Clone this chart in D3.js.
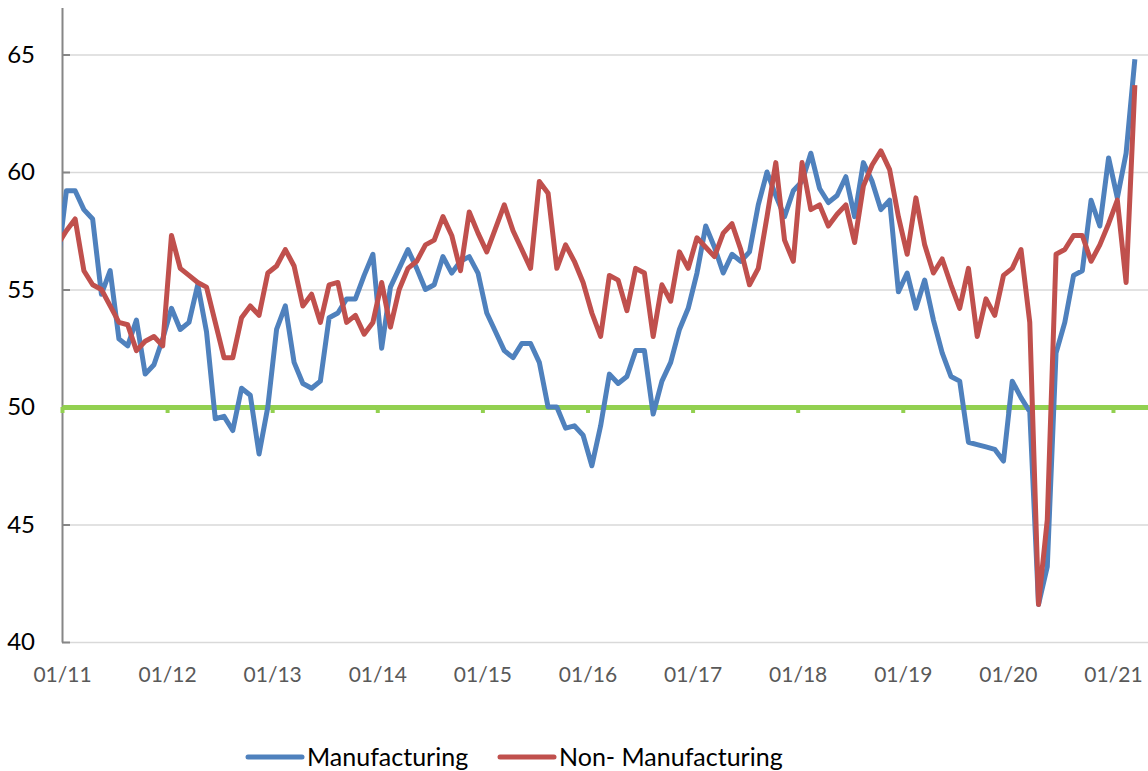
<!DOCTYPE html>
<meta charset="utf-8">

<head>
  <style>
    body {
      margin: 0;
      background: #fff;
    }

    text {
      font-family: Lato, "Open Sans", sans-serif;
    }

    .grid line {
      stroke: #d9d9d9;
      stroke-width: 1.5;
    }

    .grid path {
      display: none;
    }
  </style>
</head>

<body>
  <script src="https://d3js.org/d3.v7.min.js"></script>

  <script>
    // first plotted month is Dec 2010 (cut off by the axis), then Jan 2011 .. Mar 2021
    var startMonth = new Date(2010, 11, 1);

    var seriesNames = ["Manufacturing", "Non- Manufacturing"];
    var seriesColors = ["#4f81bd", "#c0504d"];

    var yTicks = [40, 45, 50, 55, 60, 65];
    var xTickLabels = ["01/11", "01/12", "01/13", "01/14", "01/15", "01/16",
      "01/17", "01/18", "01/19", "01/20", "01/21"];

    var manufacturing = [
      56.1,
      59.2, 59.2, 58.4, 58.0, 54.8, 55.8, 52.9, 52.6, 53.7, 51.4, 51.8, 52.9,
      54.2, 53.3, 53.6, 55.2, 53.2, 49.5, 49.6, 49.0, 50.8, 50.5, 48.0, 50.0,
      53.3, 54.3, 51.9, 51.0, 50.8, 51.1, 53.8, 54.0, 54.6, 54.6, 55.6, 56.5,
      52.5, 55.1, 55.9, 56.7, 55.9, 55.0, 55.2, 56.4, 55.7, 56.2, 56.4, 55.7,
      54.0, 53.2, 52.4, 52.1, 52.7, 52.7, 51.9, 50.0, 50.0, 49.1, 49.2, 48.8,
      47.5, 49.2, 51.4, 51.0, 51.3, 52.4, 52.4, 49.7, 51.1, 51.9, 53.3, 54.2,
      55.7, 57.7, 56.8, 55.7, 56.5, 56.2, 56.6, 58.6, 60.0, 59.0, 58.1, 59.2,
      59.6, 60.8, 59.3, 58.7, 59.0, 59.8, 58.1, 60.4, 59.6, 58.4, 58.8, 54.9,
      55.7, 54.2, 55.4, 53.7, 52.3, 51.3, 51.1, 48.5, 48.4, 48.3, 48.2, 47.7,
      51.1, 50.4, 49.8, 41.6, 43.2, 52.3, 53.6, 55.6, 55.8, 58.8, 57.7, 60.6,
      58.9, 60.8, 64.8
    ];

    var nonManufacturing = [
      56.9,
      57.5, 58.0, 55.8, 55.2, 55.0, 54.3, 53.6, 53.5, 52.4, 52.8, 53.0, 52.6,
      57.3, 55.9, 55.6, 55.3, 55.1, 53.6, 52.1, 52.1, 53.8, 54.3, 53.9, 55.7,
      56.0, 56.7, 56.0, 54.3, 54.8, 53.6, 55.2, 55.3, 53.6, 53.9, 53.1, 53.6,
      55.3, 53.4, 55.0, 55.9, 56.2, 56.9, 57.1, 58.1, 57.3, 55.8, 58.3, 57.4,
      56.6, 57.6, 58.6, 57.5, 56.7, 55.9, 59.6, 59.1, 55.9, 56.9, 56.2, 55.3,
      54.0, 53.0, 55.6, 55.4, 54.1, 55.9, 55.7, 53.0, 55.2, 54.5, 56.6, 55.9,
      57.2, 56.8, 56.4, 57.4, 57.8, 56.7, 55.2, 55.9, 58.1, 60.4, 57.1, 56.2,
      60.4, 58.4, 58.6, 57.7, 58.2, 58.6, 57.0, 59.4, 60.3, 60.9, 60.1, 58.1,
      56.5, 58.9, 56.9, 55.7, 56.3, 55.2, 54.2, 55.9, 53.0, 54.6, 53.9, 55.6,
      55.9, 56.7, 53.6, 41.6, 45.2, 56.5, 56.7, 57.3, 57.3, 56.2, 56.9, 57.8,
      58.8, 55.3, 63.7
    ];

    var W = 1148, H = 771;
    var margin = { top: 7.5, right: 0, bottom: 129, left: 62 };
    var plotW = W - margin.left - margin.right,
      plotH = H - margin.top - margin.bottom;

    var svg = d3.select("body").append("svg")
      .attr("width", W)
      .attr("height", H);

    var g = svg.append("g")
      .attr("transform", "translate(" + margin.left + "," + margin.top + ")");

    // months since Jan 2011, axis runs to end of Apr 2021
    var x = d3.scaleLinear()
      .domain([0, 124])
      .range([0, plotW]);

    var y = d3.scaleLinear()
      .domain([40, 67])
      .range([plotH, 0]);

    var months = manufacturing.map(function (d, i) {
      return d3.timeMonth.offset(startMonth, i);
    });

    function monthIndex(date) {
      return (date.getFullYear() - 2011) * 12 + date.getMonth();
    }

    // gridlines
    g.append("g")
      .attr("class", "grid")
      .call(d3.axisLeft(y).tickValues(yTicks).tickSize(-plotW).tickFormat(""));

    // y axis, ticks point into the plot
    var yAxis = g.append("g")
      .call(d3.axisLeft(y).tickValues(yTicks).tickSize(-8).tickSizeOuter(0).tickPadding(27));
    yAxis.select(".domain")
      .attr("stroke", "#868686")
      .attr("stroke-width", 2);
    yAxis.selectAll(".tick line")
      .attr("stroke", "#868686")
      .attr("stroke-width", 2);
    yAxis.selectAll("text")
      .attr("fill", "#000")
      .style("font-size", "24px");

    var tickIdx = xTickLabels.map(function (d, i) { return i * 12; });

    // horizontal axis crosses at 50 (green)
    var xAxis = g.append("g")
      .attr("transform", "translate(0," + y(50) + ")")
      .call(d3.axisBottom(x).tickValues(tickIdx).tickSize(6).tickSizeOuter(0).tickFormat(""));
    xAxis.select(".domain")
      .attr("stroke", "#92d050")
      .attr("stroke-width", 5);
    xAxis.selectAll(".tick line")
      .attr("stroke", "#92d050")
      .attr("stroke-width", 4);

    // labels sit at the bottom
    var xLabels = g.append("g")
      .attr("transform", "translate(0," + plotH + ")")
      .call(d3.axisBottom(x).tickValues(tickIdx).tickSize(0).tickPadding(25)
        .tickFormat(function (d, i) { return xTickLabels[i]; }));
    xLabels.select(".domain").remove();
    xLabels.selectAll("text")
      .attr("fill", "#595959")
      .style("font-size", "21px");

    g.append("clipPath")
      .attr("id", "clip")
      .append("rect")
      .attr("x", 0)
      .attr("y", -margin.top)
      .attr("width", plotW)
      .attr("height", H);

    var line = d3.line()
      .x(function (d, i) { return x(monthIndex(months[i]) + 0.5); })
      .y(function (d) { return y(d); });

    var allSeries = [manufacturing, nonManufacturing];

    g.append("g")
      .attr("clip-path", "url(#clip)")
      .selectAll("path")
      .data(allSeries)
      .enter()
      .append("path")
      .attr("d", line)
      .attr("fill", "none")
      .attr("stroke", function (d, i) { return seriesColors[i]; })
      .attr("stroke-width", 5)
      .attr("stroke-linejoin", "round");

    // legend
    var legendX = [248, 500];

    var legend = svg.append("g")
      .selectAll("g")
      .data(seriesNames)
      .enter().append("g")
      .attr("transform", function (d, i) { return "translate(" + legendX[i] + ",757)"; });

    legend.append("line")
      .attr("x1", 0)
      .attr("x2", 54)
      .attr("stroke", function (d, i) { return seriesColors[i]; })
      .attr("stroke-width", 5)
      .attr("stroke-linecap", "round");

    legend.append("text")
      .attr("x", 59)
      .attr("dy", "0.35em")
      .style("font-size", "25px")
      .attr("fill", "#000")
      .text(function (d) { return d; });
  </script>
</body>
